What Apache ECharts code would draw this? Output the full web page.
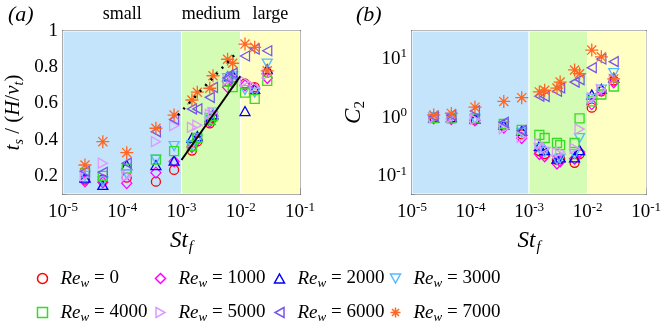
<!DOCTYPE html>
<html lang="en">
<head>
  <meta charset="UTF-8">
  <title>ts and C2 vs St_f</title>
  <script src="https://cdn.jsdelivr.net/npm/echarts@6/dist/echarts.min.js"></script>
  <style>
    * { margin: 0; padding: 0; }
    body { background: #fff; }
    #main { width: 664px; height: 332px; }
  </style>
</head>
<body>
  <div id="main"></div>
  <script>
    // St_f 取值（各 Re_w 共用）
    var stf = [2.35e-5, 4.7e-5, 1.19e-4, 3.7e-4, 7.5e-4, 1.5e-3, 1.85e-3, 3.0e-3, 3.4e-3, 6.0e-3, 7.3e-3, 1.18e-2, 1.72e-2, 2.8e-2];

    // (a) t_s / (H/v_t)
    var ts0    = [0.18, 0.18, 0.19, 0.168, 0.233, 0.34, 0.39, 0.49, 0.52, 0.72, 0.74, 0.71, 0.69, 0.77];
    var ts1000 = [0.17, 0.165, 0.16, 0.218, 0.28, 0.36, 0.40, 0.50, 0.53, 0.69, 0.72, 0.70, 0.68, 0.74];
    var ts2000 = [0.19, 0.15, 0.26, 0.26, 0.284, 0.41, 0.42, 0.51, 0.54, 0.75, 0.76, 0.558, 0.68, 0.79];
    var ts3000 = [0.20, 0.17, 0.21, 0.29, 0.365, 0.37, 0.40, 0.52, 0.55, 0.74, 0.75, 0.674, 0.66, 0.82];
    var ts4000 = [0.215, 0.20, 0.24, 0.29, 0.337, 0.365, 0.41, 0.51, 0.53, 0.72, 0.69, 0.66, 0.625, 0.725];
    var ts5000 = [0.20, 0.27, 0.20, 0.389, 0.477, 0.468, 0.48, 0.54, 0.55, 0.73, 0.74, 0.72, 0.69, 0.76];
    var ts6000 = [0.225, 0.22, 0.27, 0.444, 0.512, 0.57, 0.57, 0.634, 0.689, 0.74, 0.767, 0.862, 0.90, 0.891];
    var ts7000 = [0.26, 0.389, 0.328, 0.463, 0.536, 0.619, 0.662, 0.684, 0.753, 0.844, 0.822, 0.928, 0.91, 0.78];

    // (b) C_2
    var c2_0    = [1.0, 0.98, 0.92, 0.74, 0.52, 0.27, 0.24, 0.19, 0.2, 0.17, 0.24, 1.48, 2.8, 4.3];
    var c2_1000 = [0.98, 0.95, 0.9, 0.68, 0.45, 0.24, 0.22, 0.166, 0.18, 0.2, 0.26, 1.7, 2.9, 4.0];
    var c2_2000 = [1.0, 1.02, 0.96, 0.76, 0.6, 0.33, 0.28, 0.2, 0.21, 0.21, 0.28, 2.48, 3.1, 4.8];
    var c2_3000 = [1.02, 1.0, 0.94, 0.72, 0.55, 0.3, 0.26, 0.19, 0.2, 0.24, 0.45, 2.1, 3.0, 5.75];
    var c2_4000 = [0.98, 0.97, 0.97, 0.78, 0.62, 0.51, 0.45, 0.37, 0.34, 0.37, 0.97, 1.9, 2.48, 3.4];
    var c2_5000 = [1.0, 1.0, 0.93, 0.65, 0.46, 0.36, 0.3, 0.25, 0.26, 0.3, 0.64, 2.2, 3.0, 4.5];
    var c2_6000 = [1.05, 1.1, 1.3, 0.83, 0.6, 2.32, 2.3, 2.82, 3.22, 4.05, 4.44, 7.1, 10, 9.0];
    var c2_7000 = [1.11, 1.18, 1.51, 1.89, 2.19, 2.75, 2.93, 3.2, 4.05, 6.5, 5.6, 14.2, 10.9, 4.57];

    var reW = ['0', '1000', '2000', '3000', '4000', '5000', '6000', '7000'];
    var tsList = [ts0, ts1000, ts2000, ts3000, ts4000, ts5000, ts6000, ts7000];
    var c2List = [c2_0, c2_1000, c2_2000, c2_3000, c2_4000, c2_5000, c2_6000, c2_7000];

    // 两条参考线
    var solidLine = [[1.0e-3, 0.288], [9.8e-3, 0.75]];
    var dotLine = [[8.7e-4, 0.536], [8.7e-3, 0.884]];

    // 区域划分
    var regions = [
      { name: 'small', from: 1e-5, to: 1e-3, color: '#c4e4fc' },
      { name: 'medium', from: 1e-3, to: 1e-2, color: '#d4fcb4' },
      { name: 'large', from: 1e-2, to: 1e-1, color: '#ffffc4' }
    ];

    var xMajor = [1e-5, 1e-4, 1e-3, 1e-2, 1e-1];
    var xMinor = [];
    var yMinorB = [];
    [1e-5, 1e-4, 1e-3, 1e-2].forEach(function (d) {
      for (var k = 2; k <= 9; k++) xMinor.push(+(k * d).toPrecision(3));
    });
    [0.01, 0.1, 1, 10].forEach(function (d) {
      for (var k = 2; k <= 9; k++) {
        var v = +(k * d).toPrecision(3);
        if (v >= 0.05 && v <= 30) yMinorB.push(v);
      }
    });

    // 空心符号（三角形用路径，免得旋转在图例里失效）
    var STAR = 'path://M5,0L5,10M0,5L10,5M1.5,1.5L8.5,8.5M1.5,8.5L8.5,1.5';
    var TRI_UP = 'path://M5,0L10,9L0,9Z';
    var TRI_DOWN = 'path://M0,0L10,0L5,9Z';
    var TRI_RIGHT = 'path://M0,0L9,5L0,10Z';
    var TRI_LEFT = 'path://M9,0L0,5L9,10Z';
    var marks = [
      { symbol: 'circle', color: '#ff0000', size: 9 },
      { symbol: 'diamond', color: '#ff00ff', size: [10, 11] },
      { symbol: TRI_UP, color: '#0000ff', size: [10, 9] },
      { symbol: TRI_DOWN, color: '#55bbff', size: [10, 9] },
      { symbol: 'rect', color: '#33dd22', size: 9 },
      { symbol: TRI_RIGHT, color: '#dd99ff', size: [9, 10] },
      { symbol: TRI_LEFT, color: '#7755ee', size: [9, 10] },
      { symbol: STAR, color: '#ff6622', size: 13 }
    ];

    var FONT = 'Liberation Serif';
    var richBase = {
      n: { fontFamily: FONT, fontSize: 19, color: '#000' },
      sup: { fontFamily: FONT, fontSize: 13, color: '#000', padding: [0, 0, 10, 0] }
    };

    function powLabel(v) {
      var e = Math.round(Math.log10(v));
      return '{n|10}{sup|' + e + '}';
    }

    function logX(grid) {
      return [
        {
          type: 'log', gridIndex: grid, min: 1e-5, max: 1e-1, position: 'bottom',
          name: '{i|St}{s|f}', nameLocation: 'middle', nameGap: 33,
          nameTextStyle: {
            rich: {
              i: { fontFamily: FONT, fontStyle: 'italic', fontSize: 23, color: '#000' },
              s: { fontFamily: FONT, fontStyle: 'italic', fontSize: 15, color: '#000', padding: [13, 0, 0, 1] }
            }
          },
          axisLine: { lineStyle: { color: '#222', width: 1.5 } },
          axisTick: { inside: true, length: 6, customValues: xMajor, lineStyle: { color: '#222' } },
          axisLabel: { customValues: xMajor, formatter: powLabel, rich: richBase, margin: 7 },
          splitLine: { show: false }
        },
        {
          type: 'log', gridIndex: grid, min: 1e-5, max: 1e-1, position: 'bottom',
          axisLine: { show: false },
          axisTick: { inside: true, length: 3, customValues: xMinor, lineStyle: { color: '#222' } },
          axisLabel: { show: false },
          splitLine: { show: false }
        },
        {
          type: 'log', gridIndex: grid, min: 1e-5, max: 1e-1, position: 'top',
          axisLine: { lineStyle: { color: '#444', width: 1.5 } },
          axisTick: { show: false }, axisLabel: { show: false }, splitLine: { show: false }
        }
      ];
    }

    var xAxes = logX(0).concat(logX(1));

    var yAxes = [
      {
        type: 'value', gridIndex: 0, min: 0.1, max: 1, interval: 0.1, position: 'left',
        name: '{i|t}{s|s}{n| / (}{i|H}{n|/}{i|v}{s|t}{n|)}', nameLocation: 'middle', nameGap: 37,
        nameTextStyle: {
          rich: {
            i: { fontFamily: FONT, fontStyle: 'italic', fontSize: 21, color: '#000' },
            n: { fontFamily: FONT, fontSize: 21, color: '#000' },
            s: { fontFamily: FONT, fontStyle: 'italic', fontSize: 14, color: '#000', padding: [12, 0, 0, 0] }
          }
        },
        axisLine: { lineStyle: { color: '#222', width: 1.5 } },
        axisTick: { inside: true, length: 4, lineStyle: { color: '#222' } },
        axisLabel: {
          margin: 5, fontFamily: FONT, fontSize: 19, color: '#000',
          formatter: function (v) {
            var r = Math.round(v * 10);
            if (r % 2) return '';
            return r === 10 ? '1' : (r / 10).toFixed(1);
          }
        },
        splitLine: { show: false }
      },
      {
        type: 'value', gridIndex: 0, min: 0.1, max: 1, position: 'right',
        axisLine: { lineStyle: { color: '#444', width: 1.5 } },
        axisTick: { show: false }, axisLabel: { show: false }, splitLine: { show: false }
      },
      {
        type: 'log', gridIndex: 1, min: 0.05, max: 30, position: 'left',
        name: '{i|C}{s|2}', nameLocation: 'middle', nameGap: 44,
        nameTextStyle: {
          rich: {
            i: { fontFamily: FONT, fontStyle: 'italic', fontSize: 23, color: '#000' },
            s: { fontFamily: FONT, fontSize: 15, color: '#000', padding: [13, 0, 0, 0] }
          }
        },
        axisLine: { lineStyle: { color: '#222', width: 1.5 } },
        axisTick: { inside: true, length: 6, customValues: [0.1, 1, 10], lineStyle: { color: '#222' } },
        axisLabel: { customValues: [0.1, 1, 10], formatter: powLabel, rich: richBase, margin: 5 },
        splitLine: { show: false }
      },
      {
        type: 'log', gridIndex: 1, min: 0.05, max: 30, position: 'left',
        axisLine: { show: false },
        axisTick: { inside: true, length: 3, customValues: yMinorB, lineStyle: { color: '#222' } },
        axisLabel: { show: false }, splitLine: { show: false }
      },
      {
        type: 'log', gridIndex: 1, min: 0.05, max: 30, position: 'right',
        axisLine: { lineStyle: { color: '#444', width: 1.5 } },
        axisTick: { show: false }, axisLabel: { show: false }, splitLine: { show: false }
      }
    ];

    function bgSeries(xi, yi, withLabel) {
      return {
        type: 'line', xAxisIndex: xi, yAxisIndex: yi, data: [], z: 0, silent: true,
        markArea: {
          silent: true,
          label: {
            show: withLabel, position: 'top', distance: 7,
            fontFamily: FONT, fontSize: 18, color: '#000'
          },
          data: regions.map(function (r) {
            return [
              { name: r.name, xAxis: r.from, itemStyle: { color: r.color, borderColor: '#fff', borderWidth: 1 } },
              { xAxis: r.to }
            ];
          })
        }
      };
    }

    var series = [bgSeries(0, 0, true), bgSeries(3, 2, false)];

    reW.forEach(function (re, i) {
      var m = marks[i];
      var common = {
        name: 'Re' + re,
        type: 'scatter',
        symbol: m.symbol,
        symbolSize: m.size,
        z: 3 + i,
        itemStyle: { color: 'none', borderColor: m.color, borderWidth: 1.3, opacity: 1 }
      };
      series.push(Object.assign({}, common, {
        xAxisIndex: 0, yAxisIndex: 0,
        data: stf.map(function (x, k) { return [x, tsList[i][k]]; })
      }));
      series.push(Object.assign({}, common, {
        xAxisIndex: 3, yAxisIndex: 2,
        data: stf.map(function (x, k) { return [x, c2List[i][k]]; })
      }));
    });

    series.push({
      type: 'line', xAxisIndex: 0, yAxisIndex: 0, data: solidLine, z: 20,
      symbol: 'none', lineStyle: { color: '#000', width: 2 }, silent: true
    });
    series.push({
      type: 'line', xAxisIndex: 0, yAxisIndex: 0, data: dotLine, z: 20,
      symbol: 'none', lineStyle: { color: '#000', width: 2.5, type: [2, 6] }, silent: true
    });

    var legendRich = {
      i: { fontFamily: FONT, fontStyle: 'italic', fontSize: 19, color: '#000', padding: [0, 0, 0, 8] },
      s: { fontFamily: FONT, fontStyle: 'italic', fontSize: 13, color: '#000', padding: [10, 0, 0, 0] },
      n: { fontFamily: FONT, fontSize: 19, color: '#000' }
    };
    var legendCols = [35, 153, 272, 388];
    var legends = legendCols.map(function (lx, c) {
      return {
        orient: 'vertical', left: lx, top: 269, itemGap: 13, padding: 0,
        itemWidth: 10, itemHeight: 10, selectedMode: false,
        data: [c, c + 4].map(function (k) {
          return {
            name: 'Re' + reW[k],
            icon: marks[k].symbol,
            itemStyle: { color: 'none', borderColor: marks[k].color, borderWidth: 1.5 }
          };
        }),
        formatter: function (name) {
          return '{i|Re}{s|w}{n| = ' + name.slice(2) + '}';
        },
        textStyle: { rich: legendRich }
      };
    });

    var chart = echarts.init(document.getElementById('main'));
    chart.setOption({
      animation: false,
      grid: [
        { left: 63, top: 31, width: 237, height: 163 },
        { left: 412, top: 31, width: 236, height: 163 }
      ],
      xAxis: xAxes,
      yAxis: yAxes,
      legend: legends,
      graphic: [
        {
          type: 'text', left: 8, top: 4,
          style: { text: '(a)', font: 'italic 22px "Liberation Serif"', fill: '#000' }
        },
        {
          type: 'text', left: 356, top: 4,
          style: { text: '(b)', font: 'italic 22px "Liberation Serif"', fill: '#000' }
        }
      ],
      series: series
    });
  </script>
</body>
</html>
